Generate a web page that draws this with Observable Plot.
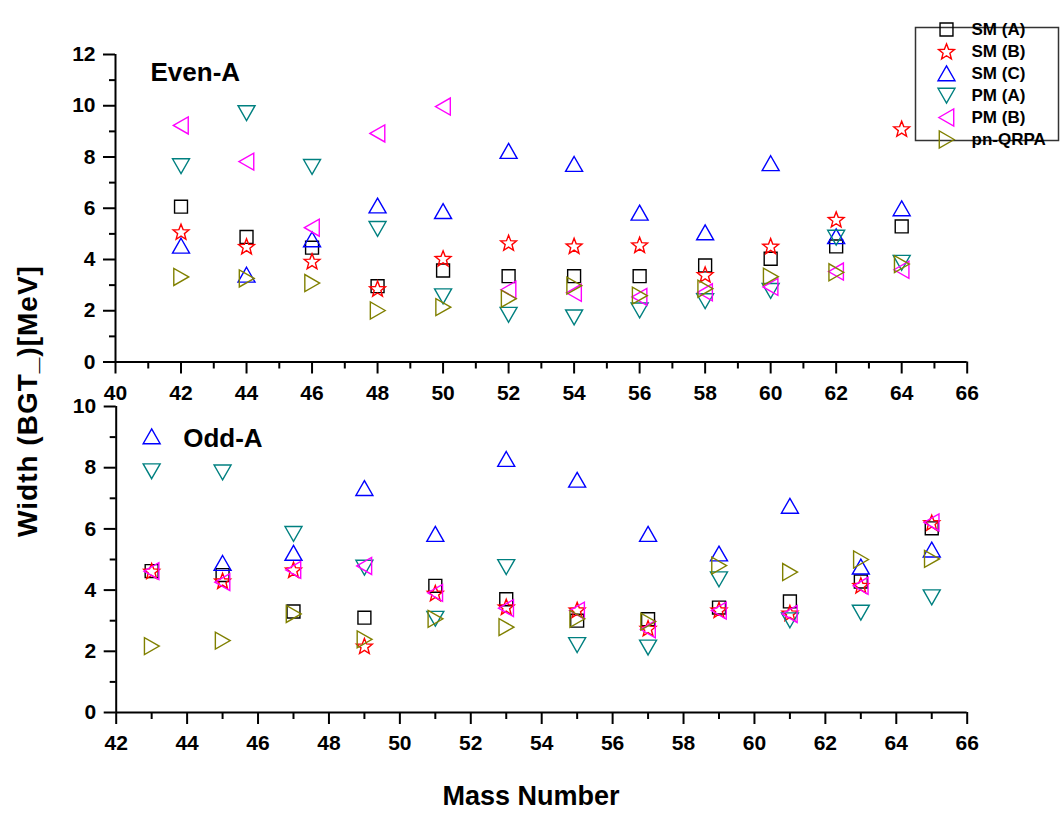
<!DOCTYPE html>
<html><head><meta charset="utf-8">
<script src="https://cdn.jsdelivr.net/npm/d3@7"></script>
<script src="https://cdn.jsdelivr.net/npm/@observablehq/plot@0.6"></script>
<style>
body{margin:0;background:#fff;}
#chart{position:relative;width:1061px;height:816px;overflow:hidden;font-family:"Liberation Sans",Arial,sans-serif;background:#fff;}
#chart > div.p{position:absolute;}
.lab{position:absolute;font-weight:bold;color:#000;white-space:nowrap;line-height:30px;}
#chart svg g[aria-label$="tick label"]{font-family:"Liberation Sans",Arial,sans-serif;font-size:21px;font-weight:bold;fill:#000;}
#chart svg text{font-weight:bold;}
</style></head><body><div id="chart"></div>
<script>
// ---- data ----
const series = ["SM (A)", "SM (B)", "SM (C)", "PM (A)", "PM (B)", "pn-QRPA"];
const colors = ["#000000", "#ff0000", "#0000ff", "#008080", "#ff00ff", "#808000"];

const evenMass = [42, 44, 46, 48, 50, 52, 54, 56, 58, 60, 62, 64];
const evenSMA  = [6.06, 4.88, 4.46, 2.96, 3.57, 3.35, 3.35, 3.35, 3.77, 4.03, 4.51, 5.29];
const evenSMB  = [5.08, 4.51, 3.93, 2.86, 4.04, 4.65, 4.53, 4.57, 3.41, 4.52, 5.56, 9.10];
const evenSMC  = [4.53, 3.40, 4.78, 6.10, 5.88, 8.23, 7.72, 5.82, 5.05, 7.75, 4.90, 5.99];
const evenPMA  = [7.65, 9.72, 7.62, 5.20, 2.57, 1.85, 1.75, 2.02, 2.38, 2.78, 4.86, 3.88];
const evenPMB  = [9.23, 7.82, 5.24, 8.92, 9.97, 2.82, 2.70, 2.54, 2.72, 2.93, 3.53, 3.60];
const evenQRPA = [3.32, 3.26, 3.08, 2.01, 2.14, 2.47, 2.98, 2.59, 2.86, 3.33, 3.50, 3.82];

const oddMass = [43, 45, 47, 49, 51, 53, 55, 57, 59, 61, 63, 65];
const oddSMA  = [4.62, 4.49, 3.30, 3.10, 4.14, 3.70, 3.00, 3.05, 3.43, 3.63, 4.28, 6.02];
const oddSMB  = [4.62, 4.30, 4.66, 2.17, 3.90, 3.45, 3.35, 2.75, 3.35, 3.25, 4.15, 6.20];
const oddSMC  = [9.02, 4.88, 5.21, 7.33, 5.83, 8.28, 7.60, 5.83, 5.19, 6.75, 4.76, 5.32];
const oddPMA  = [7.89, 7.85, 5.84, 4.74, 3.07, 4.76, 2.21, 2.13, 4.36, 3.02, 3.27, 3.77];
const oddPMB  = [4.62, 4.26, 4.66, 4.79, 3.91, 3.41, 3.33, 2.72, 3.33, 3.22, 4.14, 6.21];
const oddQRPA = [2.17, 2.35, 3.22, 2.39, 3.06, 2.79, 3.06, 2.97, 4.80, 4.59, 5.00, 5.02];

const xTicksEven = [40, 42, 44, 46, 48, 50, 52, 54, 56, 58, 60, 62, 64, 66];
const xMinorEven = [41, 43, 45, 47, 49, 51, 53, 55, 57, 59, 61, 63, 65];
const yTicksEven = [0, 2, 4, 6, 8, 10, 12];
const yMinorEven = [1, 3, 5, 7, 9, 11];
const xTicksOdd = [42, 44, 46, 48, 50, 52, 54, 56, 58, 60, 62, 64, 66];
const xMinorOdd = [43, 45, 47, 49, 51, 53, 55, 57, 59, 61, 63, 65];
const yTicksOdd = [0, 2, 4, 6, 8, 10];
const yMinorOdd = [1, 3, 5, 7, 9];

const panelTitles = ["Even-A", "Odd-A"];
const xTitle = "Mass Number";
const yTitle = "Width (BGT_)[MeV]";

(function () {
// ---- symbols ----
function poly(pts) {
  return {draw(ctx, size) {
    const r = Math.sqrt(size / Math.PI);
    ctx.moveTo(pts[0][0] * r, pts[0][1] * r);
    for (let i = 1; i < pts.length; i++) ctx.lineTo(pts[i][0] * r, pts[i][1] * r);
    ctx.closePath();
  }};
}
const starPts = [];
for (let k = 0; k < 10; k++) {
  const a = -Math.PI / 2 + k * Math.PI / 5, R = k % 2 ? 0.42 : 0.98;
  starPts.push([R * Math.cos(a), R * Math.sin(a) + 0.08]);
}
const symbols = [
  poly([[-.76, -.76], [.76, -.76], [.76, .76], [-.76, .76]]),
  poly(starPts),
  poly([[0, -.9], [1, .85], [-1, .85]]),
  poly([[0, .9], [1, -.85], [-1, -.85]]),
  poly([[-.9, 0], [.85, -1], [.85, 1]]),
  poly([[.9, 0], [-.85, -1], [-.85, 1]])
];

function rows(mass, vals) { return mass.map((m, i) => ({m, v: vals[i]})); }

const chart = document.getElementById("chart");
const FONT = "'Liberation Sans', Arial, sans-serif";
const baseStyle = {fontFamily: FONT, fontSize: "21px", fontWeight: "bold", background: "transparent", color: "#000", overflow: "visible"};
const tickFont = {fontFamily: FONT, fontSize: 21, fontWeight: "bold", fill: "#000"};

function panel(cfg) {
  const marks = [
    Plot.axisX(cfg.xMinor, {tickSize: 7, strokeWidth: 2, stroke: "#000", tickFormat: () => "", label: null}),
    Plot.axisX(cfg.xTicks, {tickSize: 12, strokeWidth: 2, stroke: "#000", tickPadding: 11, tickFormat: d => String(d), label: null, ...tickFont}),
    Plot.axisY(cfg.yMinor, {tickSize: 6, strokeWidth: 2, stroke: "#000", tickFormat: () => "", label: null}),
    Plot.axisY(cfg.yTicks, {tickSize: 12, strokeWidth: 2, stroke: "#000", tickPadding: 8, tickFormat: d => String(d), label: null, ...tickFont}),
    Plot.ruleY([cfg.yDomain[0]], {stroke: "#000", strokeWidth: 2}),
    Plot.ruleX([cfg.xDomain[0]], {stroke: "#000", strokeWidth: 2}),
    Plot.text([cfg.title], {frameAnchor: "top-left", dx: cfg.tdx, dy: cfg.tdy, lineAnchor: "top", textAnchor: "start", fontFamily: FONT, fontSize: 26, fontWeight: "bold", fill: "#000"})
  ];
  cfg.values.forEach((vals, i) => {
    marks.push(Plot.dot(rows(cfg.mass, vals), {x: "m", y: "v", symbol: symbols[i], r: 8.5, stroke: colors[i], strokeWidth: 1.4, fill: "none"}));
  });
  return Plot.plot({
    width: 1061, height: cfg.height,
    marginTop: cfg.mt, marginBottom: cfg.mb, marginLeft: cfg.ml, marginRight: cfg.mr,
    x: {domain: cfg.xDomain, label: null},
    y: {domain: cfg.yDomain, label: null},
    style: baseStyle,
    marks
  });
}

const topPlot = panel({
  mass: evenMass, values: [evenSMA, evenSMB, evenSMC, evenPMA, evenPMB, evenQRPA],
  xDomain: [40, 66], xTicks: xTicksEven, xMinor: xMinorEven,
  yDomain: [0, 12], yTicks: yTicksEven, yMinor: yMinorEven,
  height: 410, mt: 54, mb: 48.5, ml: 115, mr: 94.3,
  title: panelTitles[0], tdx: 35, tdy: 8
});
const bottomPlot = panel({
  mass: oddMass, values: [oddSMA, oddSMB, oddSMC, oddPMA, oddPMB, oddQRPA],
  xDomain: [42, 66], xTicks: xTicksOdd, xMinor: xMinorOdd,
  yDomain: [0, 10], yTicks: yTicksOdd, yMinor: yMinorOdd,
  height: 436, mt: 26, mb: 104, ml: 115.7, mr: 94.3,
  title: panelTitles[1], tdx: 67, tdy: 22
});

function place(node, left, topPx) {
  const d = document.createElement("div");
  d.className = "p";
  d.style.left = left + "px";
  d.style.top = topPx + "px";
  d.appendChild(node);
  chart.appendChild(d);
}
place(topPlot, 0, 0);
place(bottomPlot, 0, 380);

// legend
const legend = Plot.plot({
  width: 143, height: 152,
  marginTop: 22, marginBottom: 17, marginLeft: 0, marginRight: 0,
  x: {axis: null, domain: [0, 1]},
  y: {type: "point", domain: series, padding: 0, axis: null},
  style: {...baseStyle, fontSize: "17px"},
  marks: [
    Plot.frame({stroke: "#333", strokeWidth: 1.5}),
    ...series.map((s, i) => Plot.dot([s], {y: d => d, frameAnchor: "left", dx: 31, symbol: symbols[i], r: 8.5, stroke: colors[i], strokeWidth: 1.4, fill: "none"})),
    Plot.text(series, {y: d => d, frameAnchor: "left", dx: 56, textAnchor: "start", fontFamily: FONT, fontSize: 17, fontWeight: "bold", fill: "#000"})
  ]
});
place(legend, 915, 5);

// axis titles
const xl = document.createElement("div");
xl.className = "lab";
xl.textContent = xTitle;
xl.style.fontSize = "27px";
xl.style.left = "531px"; xl.style.top = "781px"; xl.style.transform = "translateX(-50%)";
chart.appendChild(xl);

const yl = document.createElement("div");
yl.className = "lab";
yl.textContent = yTitle;
yl.style.fontSize = "28px";
yl.style.letterSpacing = "1px";
yl.style.left = "28px"; yl.style.top = "401px"; yl.style.transform = "translate(-50%,-50%) rotate(-90deg)";
chart.appendChild(yl);
})();
</script>
</body></html>
